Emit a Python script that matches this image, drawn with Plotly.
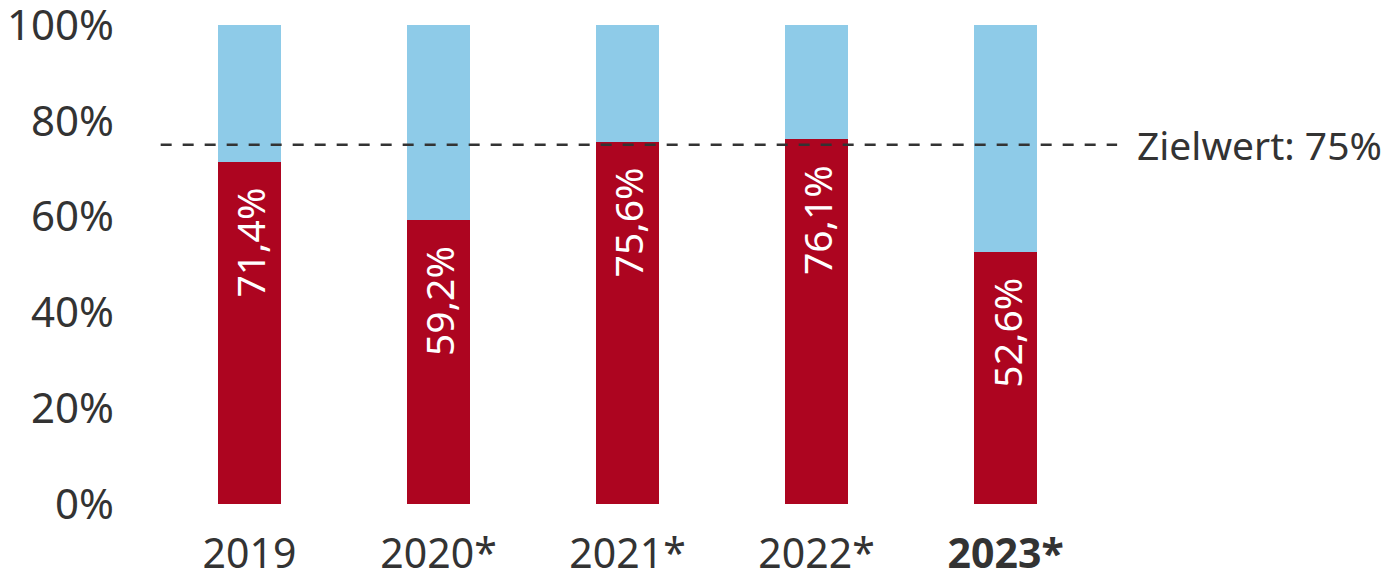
import plotly.graph_objects as go

categories = ["2019", "2020*", "2021*", "2022*", "2023*"]
tick_labels = ["2019", "2020*", "2021*", "2022*", "<b>2023*</b>"]
share_values = [71.4, 59.2, 75.6, 76.1, 52.6]
rest_values = [round(100 - v, 1) for v in share_values]
value_labels = ["71,4%", "59,2%", "75,6%", "76,1%", "52,6%"]
target_value = 75
target_label = "Zielwert: 75%"
y_ticks = [0, 20, 40, 60, 80, 100]
y_tick_labels = ["0%", "20%", "40%", "60%", "80%", "100%"]

RED = "#AD0520"
BLUE = "#8ECBE8"
TXT = "#333333"
FONT = "Noto Sans"

x = list(range(len(categories)))

fig = go.Figure()
fig.add_trace(go.Bar(x=x, y=share_values, marker=dict(color=RED, line=dict(width=0)),
                     width=0.333, hoverinfo="skip"))
fig.add_trace(go.Bar(x=x, y=rest_values, marker=dict(color=BLUE, line=dict(width=0)),
                     width=0.333, hoverinfo="skip"))

for xi, v, lab in zip(x, share_values, value_labels):
    fig.add_annotation(x=xi, y=v, text=lab, textangle=-90, showarrow=False,
                       xanchor="center", yanchor="top", yshift=-24,
                       font=dict(family=FONT, size=39, color="white"))

fig.add_shape(type="line", xref="x", yref="y", x0=-0.47, x1=4.59,
              y0=target_value, y1=target_value,
              line=dict(color=TXT, width=2.5, dash="11px,11px"))
fig.add_annotation(xref="paper", x=1.0, y=target_value, yref="y", text=target_label,
                   showarrow=False, xanchor="left", yanchor="middle", xshift=16,
                   font=dict(family=FONT, size=39, color=TXT))

# page body has an 8px margin, so the figure is sized to fill the rest of the window
fig.update_layout(
    barmode="stack",
    width=1384, height=572,
    margin=dict(l=147, r=273, t=17, b=76),
    paper_bgcolor="white", plot_bgcolor="white",
    showlegend=False,
    font=dict(family=FONT, color=TXT),
    xaxis=dict(range=[-0.5, 4.6], tickmode="array", tickvals=x, ticktext=tick_labels,
               showgrid=False, zeroline=False, showline=False, ticks="", automargin=False,
               tickfont=dict(family=FONT, size=41, color=TXT), ticklabelstandoff=22,
               ticklabeloverflow="allow"),
    yaxis=dict(range=[0, 100], tickmode="array", tickvals=y_ticks, ticktext=y_tick_labels,
               showgrid=False, zeroline=False, showline=False, ticks="", automargin=False,
               tickfont=dict(family=FONT, size=42, color=TXT), ticklabelstandoff=40,
               ticklabeloverflow="allow"),
)

fig.write_html("out.html")
